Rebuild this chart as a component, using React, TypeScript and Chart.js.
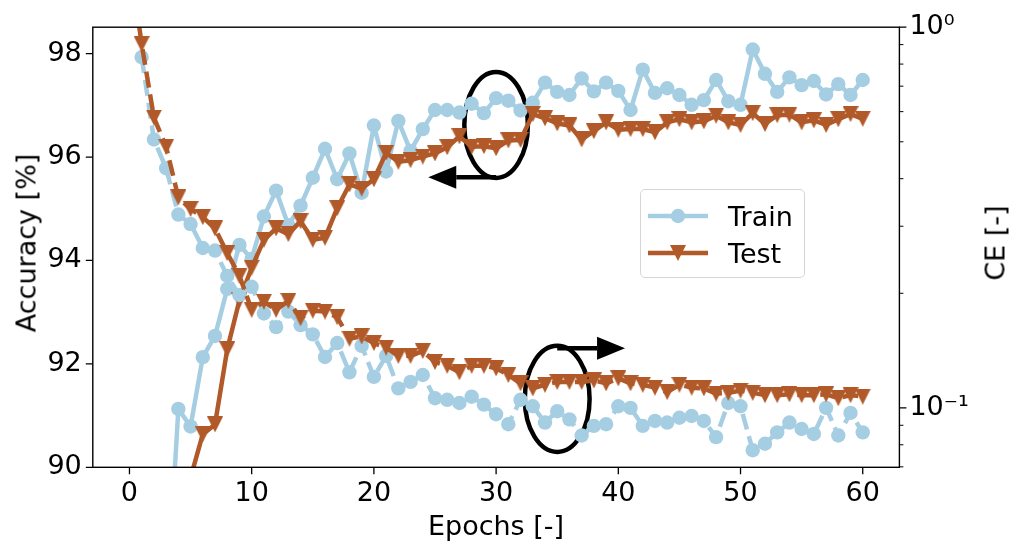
import React, { useEffect, useRef } from "react";
import { Chart, registerables } from "chart.js";

Chart.register(...registerables);

// ---- data -------------------------------------------------------------
const epochs = [
  0, 1, 2, 3, 4, 5, 6, 7, 8, 9, 10, 11, 12, 13, 14, 15, 16, 17, 18, 19, 20,
  21, 22, 23, 24, 25, 26, 27, 28, 29, 30, 31, 32, 33, 34, 35, 36, 37, 38, 39, 40,
  41, 42, 43, 44, 45, 46, 47, 48, 49, 50, 51, 52, 53, 54, 55, 56, 57, 58, 59, 60,
];

// accuracy in %, one value per epoch (null = not recorded)
const trainAcc = [
  null, null, null, 87.1, 91.13, 90.79, 92.13, 92.54, 93.45, 94.3, 94.03,
  94.85, 95.35, 94.68, 95.06, 95.6, 96.16, 95.57, 96.07, 95.31, 96.61,
  95.72, 96.7, 96.12, 96.54, 96.91, 96.91, 96.86, 97.03, 96.85, 97.14,
  97.09, 96.9, 97.05, 97.44, 97.26, 97.2, 97.52, 97.27, 97.44, 97.28,
  96.91, 97.69, 97.24, 97.33, 97.2, 97.01, 97.1, 97.49, 97.08, 97.01,
  98.08, 97.61, 97.26, 97.54, 97.39, 97.47, 97.21, 97.41, 97.2, 97.49,
];
const testAcc = [
  null, null, null, null, null, 89.8, 90.64, 90.83, 92.28, 93.23, 93.86,
  94.4, 94.62, 94.51, 94.76, 94.4, 94.44, 95.01, 95.47, 95.39, 95.57,
  96.08, 95.91, 95.94, 96.01, 96.07, 96.19, 96.4, 96.2, 96.21, 96.17,
  96.32, 96.33, 96.83, 96.75, 96.65, 96.61, 96.34, 96.5, 96.67, 96.53,
  96.54, 96.54, 96.48, 96.67, 96.73, 96.67, 96.69, 96.8, 96.67, 96.62,
  96.85, 96.64, 96.81, 96.82, 96.67, 96.71, 96.62, 96.73, 96.83, 96.74,
];

// cross-entropy loss, one value per epoch
const trainCE = [
  null, 0.834, 0.507, 0.426, 0.322, 0.304, 0.263, 0.259, 0.222, 0.198, 0.208,
  0.177, 0.163, 0.179, 0.165, 0.156, 0.136, 0.148, 0.124, 0.1455, 0.1206,
  0.137, 0.1125, 0.117, 0.122, 0.106, 0.105, 0.103, 0.107, 0.102, 0.0962,
  0.0906, 0.105, 0.101, 0.0915, 0.098, 0.0933, 0.0846, 0.0897, 0.0906, 0.101,
  0.1, 0.0897, 0.0924, 0.0915, 0.0942, 0.0952, 0.0924, 0.0838, 0.103, 0.101,
  0.0774, 0.0805, 0.0862, 0.0915, 0.088, 0.0854, 0.1, 0.0846, 0.097, 0.0862,
];
const testCE = [
  1.52, 0.903, 0.579, 0.485, 0.357, 0.333, 0.317, 0.296, 0.255, 0.222, 0.181,
  0.19, 0.181, 0.191, 0.172, 0.18, 0.179, 0.173, 0.152, 0.154, 0.148,
  0.144, 0.137, 0.137, 0.141, 0.132, 0.129, 0.124, 0.129, 0.129, 0.127,
  0.122, 0.116, 0.1125, 0.115, 0.117, 0.117, 0.117, 0.118, 0.116, 0.1195,
  0.116, 0.115, 0.113, 0.11, 0.115, 0.113, 0.1125, 0.109, 0.1095, 0.111,
  0.1095, 0.108, 0.108, 0.1085, 0.108, 0.108, 0.1085, 0.106, 0.108, 0.107,
];

// ---- axes -------------------------------------------------------------
const epochTicks = [0, 10, 20, 30, 40, 50, 60];
const accTicks = [90, 92, 94, 96, 98];
const ceMajorTicks = [0.1, 1];
const ceMinorTicks = [0.07, 0.08, 0.09, 0.2, 0.3, 0.4, 0.5, 0.6, 0.7, 0.8, 0.9];
const ceTickLabels: Record<string, string> = { "0.1": "10⁻¹", "1": "10⁰" };

const X_MIN = -3;
const X_MAX = 63;
const ACC_MIN = 90;
const ACC_MAX = 98.511;
const CE_MIN = 0.0698;
const CE_MAX = 1;

// ellipse + arrow call-outs, in data units
const accCallout = { epoch: 30, acc: 96.62, width: 5.2, height: 2.05, arrowY: 95.61, arrowTo: 24.45 };
const ceCallout = { epoch: 35, top: 0.1455, bottom: 0.0766, width: 5.3, arrowY: 0.1435, arrowTo: 40.55 };

// ---- style ------------------------------------------------------------
const TRAIN = "#a6cee3";
const TEST = "#b15928";
const FONT = "'DejaVu Sans', 'Liberation Sans', sans-serif";
const FONT_SIZE = 27;
const LINE_W = 4.5;
const DASH = [16, 7];
const MARK_R = 7.2;
const TRI = 16;

const W = 1019;
const H = 545;
const AREA = { left: 92.8, right: 899.4, top: 17.7, bottom: 467.3 };

function series(values: (number | null)[]) {
  const out: { x: number; y: number }[] = [];
  values.forEach((v, i) => {
    if (v !== null) out.push({ x: epochs[i], y: v });
  });
  return out;
}

function triangleDown(color: string) {
  const c = document.createElement("canvas");
  c.width = TRI;
  c.height = TRI;
  const g = c.getContext("2d")!;
  g.fillStyle = color;
  g.beginPath();
  g.moveTo(0, 0);
  g.lineTo(TRI, 0);
  g.lineTo(TRI / 2, TRI);
  g.closePath();
  g.fill();
  return c;
}

function drawArrow(ctx: CanvasRenderingContext2D, x0: number, y: number, x1: number) {
  const headLen = 28;
  const headHalf = 11.5;
  const dir = Math.sign(x1 - x0);
  const baseX = x1 - dir * headLen;
  ctx.beginPath();
  ctx.moveTo(x0, y);
  ctx.lineTo(baseX, y);
  ctx.stroke();
  ctx.beginPath();
  ctx.moveTo(x1, y);
  ctx.lineTo(baseX, y - headHalf);
  ctx.lineTo(baseX, y + headHalf);
  ctx.closePath();
  ctx.fill();
}

const decorPlugin = {
  id: "decor",
  beforeDatasetsDraw(chart: any) {
    const { ctx } = chart;
    const xs = chart.scales.x;
    const acc = chart.scales.acc;
    const ce = chart.scales.ce;
    ctx.save();
    ctx.strokeStyle = "#000";
    ctx.fillStyle = "#000";
    ctx.lineWidth = 4.5;

    // accuracy call-out
    {
      const cx = xs.getPixelForValue(accCallout.epoch);
      const rx = Math.abs(xs.getPixelForValue(accCallout.epoch + accCallout.width / 2) - cx);
      const cy = acc.getPixelForValue(accCallout.acc);
      const ry = Math.abs(acc.getPixelForValue(accCallout.acc + accCallout.height / 2) - cy);
      ctx.beginPath();
      ctx.ellipse(cx, cy, rx, ry, 0, 0, Math.PI * 2);
      ctx.stroke();
      drawArrow(ctx, cx, acc.getPixelForValue(accCallout.arrowY), xs.getPixelForValue(accCallout.arrowTo));
    }
    // loss call-out
    {
      const cx = xs.getPixelForValue(ceCallout.epoch);
      const rx = Math.abs(xs.getPixelForValue(ceCallout.epoch + ceCallout.width / 2) - cx);
      const yt = ce.getPixelForValue(ceCallout.top);
      const yb = ce.getPixelForValue(ceCallout.bottom);
      ctx.beginPath();
      ctx.ellipse(cx, (yt + yb) / 2, rx, (yb - yt) / 2, 0, 0, Math.PI * 2);
      ctx.stroke();
      drawArrow(ctx, cx, ce.getPixelForValue(ceCallout.arrowY), xs.getPixelForValue(ceCallout.arrowTo));
    }
    ctx.restore();
  },
  afterDatasetsDraw(chart: any) {
    const { ctx, chartArea: a } = chart;
    const xs = chart.scales.x;
    const acc = chart.scales.acc;
    const ce = chart.scales.ce;
    ctx.save();
    ctx.strokeStyle = "#000";
    ctx.lineWidth = 1.4;
    ctx.strokeRect(a.left, a.top, a.right - a.left, a.bottom - a.top);
    ctx.lineWidth = 1.3;
    ctx.beginPath();
    epochTicks.forEach((v) => {
      const px = xs.getPixelForValue(v);
      ctx.moveTo(px, a.bottom);
      ctx.lineTo(px, a.bottom + 7);
    });
    accTicks.forEach((v) => {
      const py = acc.getPixelForValue(v);
      ctx.moveTo(a.left - 7, py);
      ctx.lineTo(a.left, py);
    });
    ceMajorTicks.forEach((v) => {
      const py = ce.getPixelForValue(v);
      ctx.moveTo(a.right, py);
      ctx.lineTo(a.right + 7, py);
    });
    ctx.stroke();
    ctx.lineWidth = 1;
    ctx.beginPath();
    ceMinorTicks.forEach((v) => {
      const py = ce.getPixelForValue(v);
      ctx.moveTo(a.right, py);
      ctx.lineTo(a.right + 4, py);
    });
    ctx.stroke();
    ctx.restore();
  },
};

const tickFont = { family: FONT, size: FONT_SIZE };

export default function App() {
  const ref = useRef<HTMLCanvasElement | null>(null);

  useEffect(() => {
    if (!ref.current) return;
    const tri = triangleDown(TEST);
    const common = {
      borderWidth: LINE_W,
      tension: 0,
      clip: 0,
      borderJoinStyle: "round" as const,
      pointBorderWidth: 0,
    };
    const chart = new Chart(ref.current, {
      type: "line",
      data: {
        datasets: [
          {
            ...common,
            label: "Test CE",
            data: series(testCE),
            yAxisID: "ce",
            borderColor: TEST,
            backgroundColor: TEST,
            borderDash: DASH,
            pointStyle: tri,
            pointRadius: TRI / 2,
          },
          {
            ...common,
            label: "Train CE",
            data: series(trainCE),
            yAxisID: "ce",
            borderColor: TRAIN,
            backgroundColor: TRAIN,
            borderDash: DASH,
            pointStyle: "circle",
            pointRadius: MARK_R,
          },
          {
            ...common,
            label: "Test",
            data: series(testAcc),
            yAxisID: "acc",
            borderColor: TEST,
            backgroundColor: TEST,
            pointStyle: tri,
            pointRadius: TRI / 2,
          },
          {
            ...common,
            label: "Train",
            data: series(trainAcc),
            yAxisID: "acc",
            borderColor: TRAIN,
            backgroundColor: TRAIN,
            pointStyle: "circle",
            pointRadius: MARK_R,
          },
        ] as any,
      },
      options: {
        animation: false,
        responsive: false,
        devicePixelRatio: 1,
        events: [],
        layout: { padding: { top: AREA.top, left: 0, right: 0, bottom: 0 } },
        plugins: { legend: { display: false }, tooltip: { enabled: false } },
        scales: {
          x: {
            type: "linear",
            position: "bottom",
            min: X_MIN,
            max: X_MAX,
            grid: { display: false, drawTicks: false },
            border: { display: false },
            ticks: { font: tickFont, color: "#000", padding: 10, maxRotation: 0, autoSkip: false },
            afterBuildTicks: (s: any) => {
              s.ticks = epochTicks.map((v) => ({ value: v }));
            },
            afterFit: (s: any) => {
              s.height = H - AREA.bottom;
            },
          },
          acc: {
            type: "linear",
            position: "left",
            min: ACC_MIN,
            max: ACC_MAX,
            grid: { display: false, drawTicks: false },
            border: { display: false },
            ticks: { font: tickFont, color: "#000", padding: 11, autoSkip: false },
            afterBuildTicks: (s: any) => {
              s.ticks = accTicks.map((v) => ({ value: v }));
            },
            afterFit: (s: any) => {
              s.width = AREA.left;
            },
          },
          ce: {
            type: "logarithmic",
            position: "right",
            min: CE_MIN,
            max: CE_MAX,
            grid: { display: false, drawTicks: false },
            border: { display: false },
            ticks: {
              font: tickFont,
              color: "#000",
              padding: 10,
              autoSkip: false,
              callback: (v: any) => ceTickLabels[String(v)] ?? "",
            },
            afterBuildTicks: (s: any) => {
              s.ticks = [...ceMinorTicks, ...ceMajorTicks]
                .sort((a, b) => a - b)
                .map((v) => ({ value: v, major: ceMajorTicks.includes(v) }));
            },
            afterFit: (s: any) => {
              s.width = W - AREA.right;
            },
          },
        },
      } as any,
      plugins: [decorPlugin],
    });
    return () => chart.destroy();
  }, []);

  const text: React.CSSProperties = {
    position: "absolute",
    fontFamily: FONT,
    fontSize: FONT_SIZE,
    lineHeight: 1,
    color: "#000",
    whiteSpace: "nowrap",
  };

  return (
    <div style={{ position: "fixed", left: 0, top: 0, width: W, height: H, background: "#fff" }}>
      <canvas ref={ref} width={W} height={H} style={{ position: "absolute", left: 0, top: 0 }} />
      <div style={{ ...text, left: 496, top: 525, transform: "translate(-50%, -50%)" }}>Epochs [-]</div>
      <div style={{ ...text, left: 26, top: 242.5, transform: "translate(-50%, -50%) rotate(-90deg)" }}>
        Accuracy [%]
      </div>
      <div style={{ ...text, left: 995, top: 242.5, transform: "translate(-50%, -50%) rotate(-90deg)" }}>
        CE [-]
      </div>
      <div
        style={{
          position: "absolute",
          left: 640,
          top: 189,
          width: 165,
          height: 89,
          boxSizing: "border-box",
          border: "1.3px solid #d5d5d5",
          borderRadius: 5,
          background: "rgba(255,255,255,0.8)",
        }}
      >
        <svg width={62} height={20} style={{ position: "absolute", left: 7, top: 16 }}>
          <line x1={0} y1={10} x2={60} y2={10} stroke={TRAIN} strokeWidth={LINE_W} />
          <circle cx={30} cy={10} r={MARK_R} fill={TRAIN} />
        </svg>
        <div style={{ ...text, left: 87, top: 26, transform: "translateY(-50%)" }}>Train</div>
        <svg width={62} height={20} style={{ position: "absolute", left: 7, top: 52.7 }}>
          <line x1={0} y1={10} x2={60} y2={10} stroke={TEST} strokeWidth={LINE_W} />
          <polygon points={`${30 - TRI / 2},${10 - TRI / 2} ${30 + TRI / 2},${10 - TRI / 2} 30,${10 + TRI / 2}`} fill={TEST} />
        </svg>
        <div style={{ ...text, left: 87, top: 62.7, transform: "translateY(-50%)" }}>Test</div>
      </div>
    </div>
  );
}
